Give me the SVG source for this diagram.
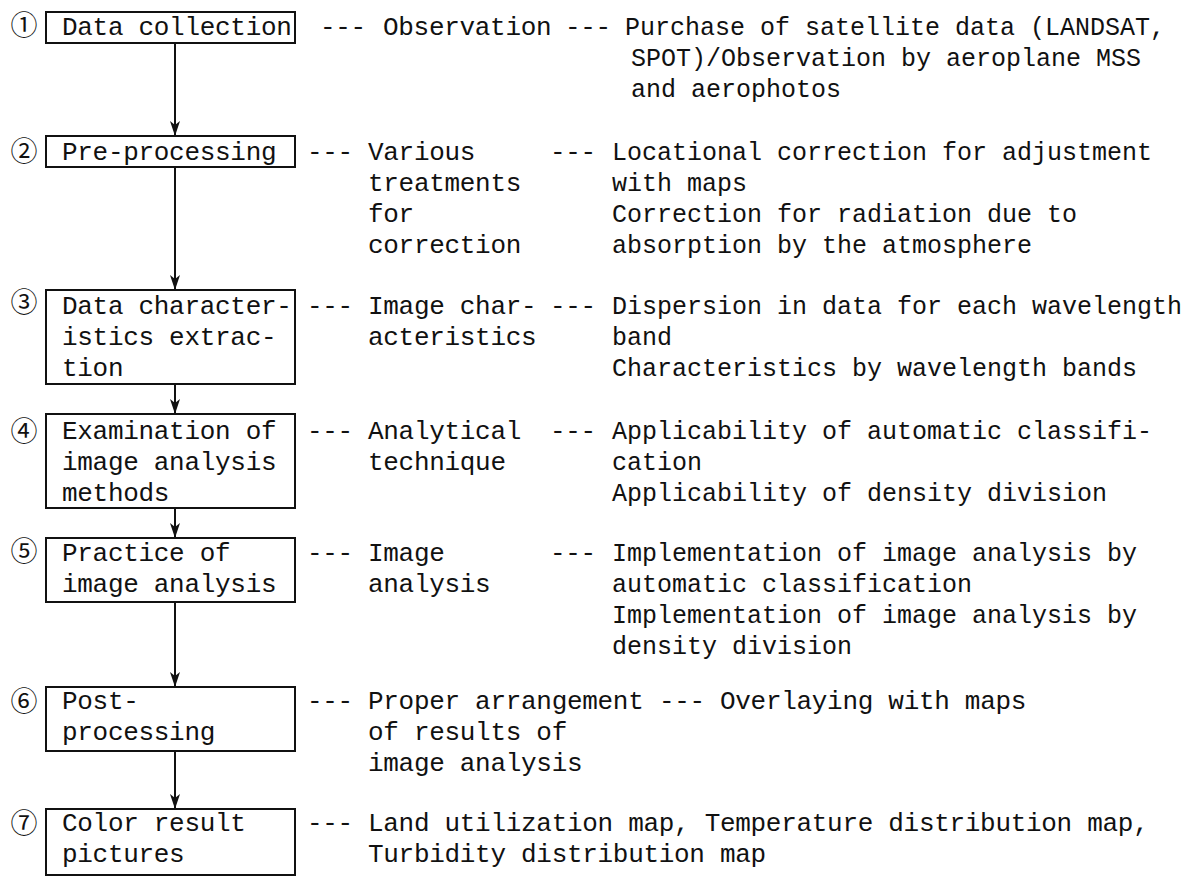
<svg xmlns="http://www.w3.org/2000/svg" width="1200" height="878" viewBox="0 0 1200 878">
<defs>
<style>
text{font-family:"Liberation Mono","DejaVu Sans Mono",monospace;font-size:26px;letter-spacing:-0.3px;fill:#111;}
.r{font-size:25px;letter-spacing:0;}
.num{font-family:"Noto Sans CJK JP","DejaVu Sans",sans-serif;font-size:27px;letter-spacing:0;text-anchor:middle;}
.box{fill:#fff;stroke:#111;stroke-width:2;}
.conn{stroke:#111;stroke-width:2;fill:none;}
</style>
<marker id="ah" viewBox="0 0 15 10" markerWidth="15" markerHeight="10" refX="15" refY="5" orient="auto" markerUnits="userSpaceOnUse">
<path d="M0,0 L15,5 L0,10 L4,5 Z" fill="#111"/>
</marker>
</defs>
<rect width="1200" height="878" fill="#fff"/>

<g id="connectors">
<line class="conn" x1="175" y1="43" x2="175" y2="136" marker-end="url(#ah)"/>
<line class="conn" x1="175" y1="167" x2="175" y2="290" marker-end="url(#ah)"/>
<line class="conn" x1="175" y1="384" x2="175" y2="414" marker-end="url(#ah)"/>
<line class="conn" x1="175" y1="508" x2="175" y2="538" marker-end="url(#ah)"/>
<line class="conn" x1="175" y1="602" x2="175" y2="687" marker-end="url(#ah)"/>
<line class="conn" x1="175" y1="751" x2="175" y2="809" marker-end="url(#ah)"/>
</g>

<g id="node-1">
<text class="num" x="24" y="35">①</text>
<rect class="box" x="46" y="12" width="249" height="31"/>
<text x="62" y="35">Data collection</text>
</g>
<g id="notes-1">
<text x="320" y="35">---</text>
<text x="383" y="35">Observation</text>
<text x="565" y="35">---</text>
<text class="r" x="625" y="35">Purchase of satellite data (LANDSAT,</text>
<text class="r" x="631" y="66">SPOT)/Observation by aeroplane MSS</text>
<text class="r" x="631" y="97">and aerophotos</text>
</g>

<g id="node-2">
<text class="num" x="24" y="161">②</text>
<rect class="box" x="46" y="136" width="249" height="31"/>
<text x="62" y="160">Pre-processing</text>
</g>
<g id="notes-2">
<text x="307" y="160">---</text>
<text x="368" y="160">Various</text>
<text x="368" y="191">treatments</text>
<text x="368" y="222">for</text>
<text x="368" y="253">correction</text>
<text x="550" y="160">---</text>
<text class="r" x="612" y="160">Locational correction for adjustment</text>
<text class="r" x="612" y="191">with maps</text>
<text class="r" x="612" y="222">Correction for radiation due to</text>
<text class="r" x="612" y="253">absorption by the atmosphere</text>
</g>

<g id="node-3">
<text class="num" x="24" y="312">③</text>
<rect class="box" x="46" y="290" width="249" height="94"/>
<text x="62" y="314">Data character-</text>
<text x="62" y="345">istics extrac-</text>
<text x="62" y="376">tion</text>
</g>
<g id="notes-3">
<text x="307" y="314">---</text>
<text x="368" y="314">Image char-</text>
<text x="368" y="345">acteristics</text>
<text x="550" y="314">---</text>
<text class="r" x="612" y="314">Dispersion in data for each wavelength</text>
<text class="r" x="612" y="345">band</text>
<text class="r" x="612" y="376">Characteristics by wavelength bands</text>
</g>

<g id="node-4">
<text class="num" x="24" y="441">④</text>
<rect class="box" x="46" y="414" width="249" height="94"/>
<text x="62" y="439">Examination of</text>
<text x="62" y="470">image analysis</text>
<text x="62" y="501">methods</text>
</g>
<g id="notes-4">
<text x="307" y="439">---</text>
<text x="368" y="439">Analytical</text>
<text x="368" y="470">technique</text>
<text x="550" y="439">---</text>
<text class="r" x="612" y="439">Applicability of automatic classifi-</text>
<text class="r" x="612" y="470">cation</text>
<text class="r" x="612" y="501">Applicability of density division</text>
</g>

<g id="node-5">
<text class="num" x="24" y="561">⑤</text>
<rect class="box" x="46" y="538" width="249" height="64"/>
<text x="62" y="561">Practice of</text>
<text x="62" y="592">image analysis</text>
</g>
<g id="notes-5">
<text x="307" y="561">---</text>
<text x="368" y="561">Image</text>
<text x="368" y="592">analysis</text>
<text x="550" y="561">---</text>
<text class="r" x="612" y="561">Implementation of image analysis by</text>
<text class="r" x="612" y="592">automatic classification</text>
<text class="r" x="612" y="623">Implementation of image analysis by</text>
<text class="r" x="612" y="654">density division</text>
</g>

<g id="node-6">
<text class="num" x="24" y="711">⑥</text>
<rect class="box" x="46" y="687" width="249" height="64"/>
<text x="62" y="709">Post-</text>
<text x="62" y="740">processing</text>
</g>
<g id="notes-6">
<text x="307" y="709">---</text>
<text x="368" y="709">Proper arrangement</text>
<text x="368" y="740">of results of</text>
<text x="368" y="771">image analysis</text>
<text x="659" y="709">---</text>
<text x="720" y="709">Overlaying with maps</text>
</g>

<g id="node-7">
<text class="num" x="24" y="833">⑦</text>
<rect class="box" x="46" y="809" width="249" height="66"/>
<text x="62" y="831">Color result</text>
<text x="62" y="862">pictures</text>
</g>
<g id="notes-7">
<text x="307" y="831">---</text>
<text x="368" y="831">Land utilization map, Temperature distribution map,</text>
<text x="368" y="862">Turbidity distribution map</text>
</g>
</svg>
